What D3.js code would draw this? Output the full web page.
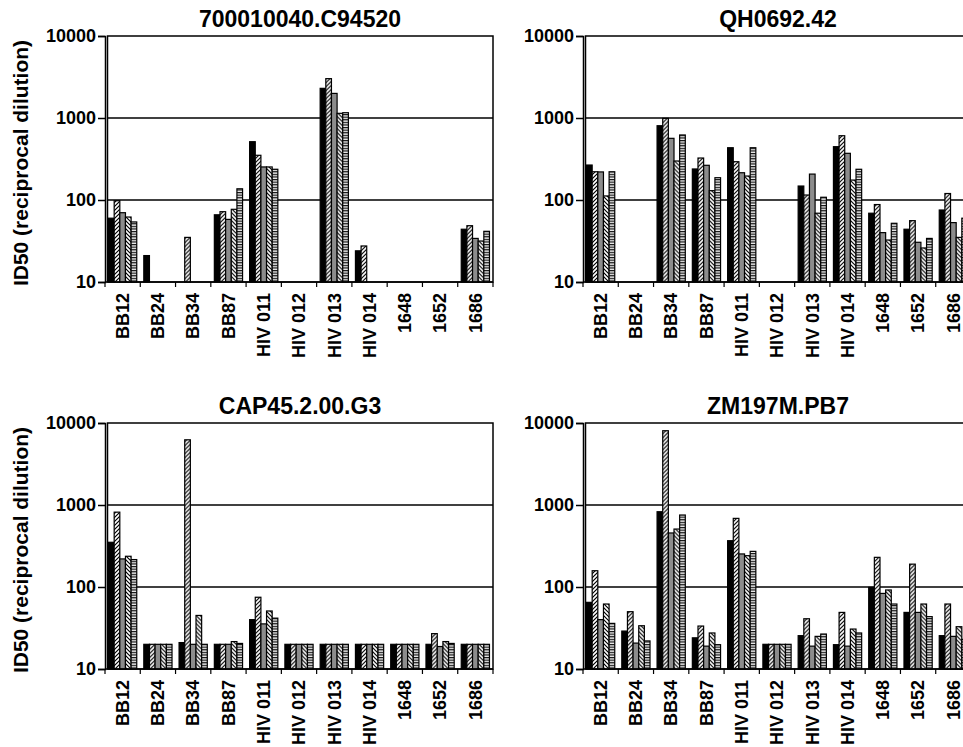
<!DOCTYPE html>
<html>
<head>
<meta charset="utf-8">
<script src="https://cdn.jsdelivr.net/npm/d3@7"></script>
<style>
	body { margin: 0; background: #fff; }
	text { font-family: 'Liberation Sans', Arial, sans-serif; font-weight: bold; fill: #000; }
</style>
</head>
<body>
<script>
// categories along every x axis
var categories = ['BB12', 'BB24', 'BB34', 'BB87', 'HIV 011', 'HIV 012', 'HIV 013', 'HIV 014', '1648', '1652', '1686'];
var yTicks = [10, 100, 1000, 10000];
var titles = ['700010040.C94520', 'QH0692.42', 'CAP45.2.00.G3', 'ZM197M.PB7'];

// one row per category: [black, hatch /, grey, hatch \, stripes], null = no bar
var c94520 = [
	[60, 98, 70, 62, 54],
	[21, null, null, null, null],
	[null, 35, null, null, null],
	[66, 72, 58, 77, 137],
	[514, 351, 253, 253, 237],
	[null, null, null, null, null],
	[2300, 3020, 1995, 1140, 1160],
	[24, 27.5, null, null, null],
	[null, null, null, null, null],
	[null, null, null, null, null],
	[44, 48.6, 34, 31.6, 41.5]
];
var qh0692 = [
	[267, 221, 220, 112, 221],
	[null, null, null, null, null],
	[805, 990, 565, 299, 621],
	[239, 325, 265, 130, 187],
	[434, 293, 215, 196, 434],
	[null, null, null, null, null],
	[148, 115, 207, 69, 108],
	[447, 608, 371, 175, 237],
	[69, 88, 40, 32.5, 52],
	[44, 56, 30.5, 26, 34],
	[75.5, 120, 53, 35, 60]
];
var cap45 = [
	[351, 818, 220, 237, 216],
	[20, 20, 20, 20, 20],
	[21, 6240, 20, 45, 20],
	[20, 20, 20, 21.6, 20.5],
	[40, 75, 35.5, 51, 41.7],
	[20, 20, 20, 20, 20],
	[20, 20, 20, 20, 20],
	[20, 20, 20, 20, 20],
	[20, 20, 20, 20, 20],
	[20, 27, 18.8, 21.6, 20.5],
	[20, 20, 20, 20, 20]
];
var zm197 = [
	[65, 158, 40, 62, 36],
	[29, 50, 20.7, 33.7, 22],
	[828, 8050, 456, 509, 755],
	[24, 33.4, 19, 27.5, 19.8],
	[367, 687, 253, 241, 272],
	[20, 20, 20, 20, 20],
	[25.5, 41, 19, 25, 26.7],
	[19.8, 49, 19, 30.7, 27.5],
	[99, 230, 83.5, 92, 62],
	[49, 190, 49, 62, 43.5],
	[25.5, 62, 25, 32.8, 23]
];

var width = 388, height = 246;
// panel origins (left, top)
var panels = [
	{title: titles[0], values: c94520, left: 105, top: 36, ylabel: true},
	{title: titles[1], values: qh0692, left: 583, top: 36, ylabel: false},
	{title: titles[2], values: cap45, left: 105, top: 423, ylabel: true},
	{title: titles[3], values: zm197, left: 583, top: 423, ylabel: false}
];
var fills = ['#000', 'url(#fwd)', '#8c8c8c', 'url(#back)', 'url(#stripe)'];

var svg = d3.select('body')
	.append('svg')
	.attr('width', 963)
	.attr('height', 747);

// hatch patterns
var defs = svg.append('defs');
var fwd = defs.append('pattern').attr('id', 'fwd')
	.attr('patternUnits', 'userSpaceOnUse').attr('width', 4).attr('height', 4);
fwd.append('rect').attr('width', 4).attr('height', 4).attr('fill', '#fff');
fwd.append('path').attr('d', 'M-1,1 l2,-2 M0,4 l4,-4 M3,5 l2,-2')
	.attr('stroke', '#000').attr('stroke-width', 1.2);
var back = defs.append('pattern').attr('id', 'back')
	.attr('patternUnits', 'userSpaceOnUse').attr('width', 4).attr('height', 4);
back.append('rect').attr('width', 4).attr('height', 4).attr('fill', '#fff');
back.append('path').attr('d', 'M-1,3 l2,2 M0,0 l4,4 M3,-1 l2,2')
	.attr('stroke', '#000').attr('stroke-width', 1.2);
var stripe = defs.append('pattern').attr('id', 'stripe')
	.attr('patternUnits', 'userSpaceOnUse').attr('width', 4).attr('height', 2.6);
stripe.append('rect').attr('width', 4).attr('height', 2.6).attr('fill', '#eee');
stripe.append('rect').attr('y', 0).attr('width', 4).attr('height', 1.2).attr('fill', '#111');

var y = d3.scaleLog()
	.domain([10, 10000])
	.range([height, 0]);
var x0 = d3.scaleBand()
	.domain(categories)
	.range([0, width]);
var x1 = d3.scaleBand()
	.domain(d3.range(5))
	.range([x0.bandwidth() * 0.1, x0.bandwidth() * 0.9]);

panels.forEach(function(p){
	var g = svg.append('g')
		.attr('transform', 'translate(' + p.left + ',' + p.top + ')');

	// frame and gridlines
	g.append('rect')
		.attr('x', 2.5).attr('y', 0)
		.attr('width', width - 2.5).attr('height', height)
		.attr('fill', 'none').attr('stroke', '#000').attr('stroke-width', 1.5);
	g.selectAll('.grid')
		.data([100, 1000])
		.enter()
		.append('line')
		.attr('x1', 2.5).attr('x2', width)
		.attr('y1', function(d){return y(d);}).attr('y2', function(d){return y(d);})
		.attr('stroke', '#000').attr('stroke-width', 1.5);

	// bars
	var groups = g.selectAll('.grp')
		.data(p.values)
		.enter()
		.append('g')
		.attr('transform', function(d, i){return 'translate(' + x0(categories[i]) + ',0)';});
	groups.selectAll('rect')
		.data(function(d){return d.map(function(v, k){return {k: k, v: v};}).filter(function(e){return e.v != null;});})
		.enter()
		.append('rect')
		.attr('x', function(d){return x1(d.k);})
		.attr('width', x1.bandwidth())
		.attr('y', function(d){return y(d.v);})
		.attr('height', function(d){return height - y(d.v);})
		.attr('fill', function(d){return fills[d.k];})
		.attr('stroke', '#000')
		.attr('stroke-width', 1.2);

	// y axis
	var yAxis = d3.axisLeft(y)
		.tickValues(yTicks)
		.tickFormat(d3.format('d'))
		.tickSize(7)
		.tickPadding(2);
	var ya = g.append('g').call(yAxis);
	ya.select('.domain').attr('stroke-width', 1.5);
	ya.selectAll('line').attr('stroke-width', 1.5);
	ya.selectAll('text').style('font-size', '18px').style('font-family', null);

	// x axis
	var xa = g.append('g').attr('transform', 'translate(0,' + height + ')');
	xa.append('line').attr('x1', 0).attr('x2', width).attr('stroke', '#000').attr('stroke-width', 1.5);
	xa.selectAll('.tick')
		.data(categories.concat(['end']))
		.enter()
		.append('line')
		.attr('x1', function(d){return d == 'end' ? width : x0(d);})
		.attr('x2', function(d){return d == 'end' ? width : x0(d);})
		.attr('y1', 0).attr('y2', 5)
		.attr('stroke', '#000').attr('stroke-width', 1.2);
	xa.selectAll('.lab')
		.data(categories)
		.enter()
		.append('text')
		.attr('transform', function(d){return 'translate(' + (x0(d) + x0.bandwidth() / 2) + ',11) rotate(-90)';})
		.attr('dy', '0.35em')
		.attr('text-anchor', 'end')
		.attr('font-size', '18px')
		.text(function(d){return d;});

	// title
	g.append('text')
		.attr('x', width / 2 + 1).attr('y', -9)
		.attr('text-anchor', 'middle')
		.attr('font-size', '23px')
		.text(p.title);

	if(p.ylabel){
		g.append('text')
			.attr('transform', 'translate(' + (21 - p.left) + ',' + (height / 2 + 4) + ') rotate(-90)')
			.attr('dy', '0.35em')
			.attr('text-anchor', 'middle')
			.attr('font-size', '21px')
			.text('ID50 (reciprocal dilution)');
	}
});
</script>
</body>
</html>
